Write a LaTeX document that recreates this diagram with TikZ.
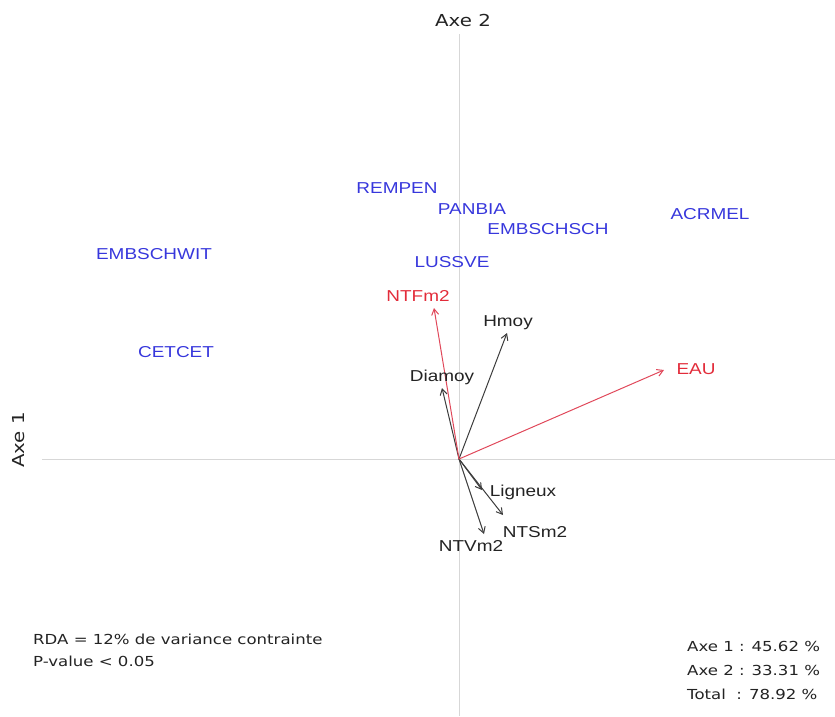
\documentclass[tikz,border=0pt]{standalone}
\usepackage{fontspec}
\setmainfont{Liberation Sans}[FakeStretch=1.2]
\newfontfamily\dejavu{DejaVu Sans}[FakeStretch=1.2]
\usetikzlibrary{arrows.meta}
\definecolor{spblue}{RGB}{55,55,220}
\definecolor{envred}{RGB}{226,44,58}
\definecolor{arrred}{RGB}{224,72,90}
\definecolor{arrgray}{RGB}{60,60,60}
\definecolor{axgray}{RGB}{215,215,215}
\definecolor{txtgray}{RGB}{35,35,35}

\begin{document}
\begin{tikzpicture}[x=1pt, y=-1pt]
	\tikzset{sp/.style={text=spblue, inner sep=0pt, anchor=mid, yshift=-2.5pt, font=\fontsize{15.8}{18}\selectfont},
	v/.style={text=txtgray, inner sep=0pt, anchor=mid, yshift=-2.5pt, font=\fontsize{15.8}{18}\selectfont},
	e/.style={v, text=envred},
	f/.style={->, >={Straight Barb[length=6pt,width=7pt]}, draw=arrgray, line width=1pt},
	fr/.style={f, draw=arrred},
	ax/.style={draw=axgray, line width=0.8pt},
	axl/.style={text=txtgray, inner sep=0pt, font=\dejavu\fontsize{16.5}{19}\selectfont},
	note/.style={text=txtgray, inner sep=0pt, anchor=mid west, font=\dejavu\fontsize{13.8}{22}\selectfont}};
	\useasboundingbox (0,0) rectangle (835,716);

	% axes
	\coordinate (o) at (459,459);
	\coordinate (n) at (459,34);
	\coordinate (s) at (459,716);
	\coordinate (w) at (42,459);
	\coordinate (e) at (835,459);
	\draw[ax] (n) -- (s);
	\draw[ax] (w) -- (e);
	\node[axl] (axe2) at (463,20) {Axe 2};
	\node[axl, rotate=90] (axe1) at (19,440) {Axe 1};

	% species
	\node[sp] (rempen) at (397,188) {REMPEN};
	\node[sp] (panbia) at (472,209) {PANBIA};
	\node[sp] (embschsch) at (548,229) {EMBSCHSCH};
	\node[sp] (acrmel) at (710,214) {ACRMEL};
	\node[sp] (embschwit) at (154,254) {EMBSCHWIT};
	\node[sp] (lussve) at (452,262) {LUSSVE};
	\node[sp] (cetcet) at (176,352) {CETCET};

	% variables
	\coordinate (thmoy) at (507,333);
	\coordinate (tdiamoy) at (442,388);
	\coordinate (tligneux) at (482,490);
	\coordinate (tntsm2) at (503,515);
	\coordinate (tntvm2) at (484,534);
	\coordinate (tntfm2) at (434,308);
	\coordinate (teau) at (664,370);

	\draw[f] (o) -- (thmoy);
	\draw[f] (o) -- (tdiamoy);
	\draw[f] (o) -- (tligneux);
	\draw[f] (o) -- (tntsm2);
	\draw[f] (o) -- (tntvm2);
	\draw[fr] (o) -- (tntfm2);
	\draw[fr] (o) -- (teau);

	\node[v] (hmoy) at (508,321) {Hmoy};
	\node[v] (diamoy) at (442,376) {Diamoy};
	\node[v] (ligneux) at (523,491) {Ligneux};
	\node[v] (ntsm2) at (535,532) {NTSm2};
	\node[v] (ntvm2) at (471,546) {NTVm2};
	\node[e] (ntfm2) at (418,296) {NTFm2};
	\node[e] (eau) at (696,369) {EAU};

	% notes
	\node[note] (rda) at (33,642) {RDA = 12\% de variance contrainte};
	\node[note] (pval) at (33,664) {P-value < 0.05};
	\node[note] (in1) at (687,649) {Axe 1 : 45.62 \%};
	\node[note] (in2) at (687,673) {Axe 2 : 33.31 \%};
	\node[note] (in3) at (687,697) {Total\ \ : 78.92 \%};
\end{tikzpicture}
\end{document}
